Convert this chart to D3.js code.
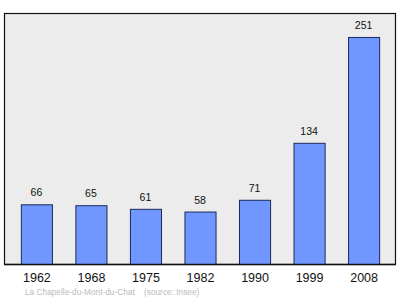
<!DOCTYPE html>
<html>
<head>
<meta charset="utf-8">
<script src="https://cdn.jsdelivr.net/npm/d3@7"></script>
<style>
  body { margin: 0; background: #fff; }
  text { font-family: "Liberation Sans", Arial, sans-serif; }
</style>
</head>
<body>
<div id="chart"></div>
<script>
const years = ["1962", "1968", "1975", "1982", "1990", "1999", "2008"]
const population = [66, 65, 61, 58, 71, 134, 251]
const footer = "La Chapelle-du-Mont-du-Chat    (source: Insee)"

const W = 400, H = 299
const frame = { left: 4.5, top: 13.5, right: 395.5, bottom: 264.5 }

const svg = d3.select("#chart")
    .append("svg")
    .attr("width", W)
    .attr("height", H)

// plot background
svg.append("rect")
    .attr("x", frame.left)
    .attr("y", frame.top)
    .attr("width", frame.right - frame.left)
    .attr("height", frame.bottom - frame.top)
    .attr("fill", "#ececec")
    .attr("stroke", "#111")
    .attr("stroke-width", 1.2)

const x = d3.scaleBand()
    .domain(years)
    .range([frame.left, frame.right])
    .paddingInner(0.43)
    .paddingOuter(0.3)

const y = d3.scaleLinear()
    .domain([0, 277.5])
    .range([frame.bottom, frame.top])

const data = years.map((yr, i) => ({ year: yr, value: population[i] }))

svg.append("g")
    .selectAll("rect")
    .data(data)
    .enter().append("rect")
    .attr("x", d => x(d.year) + 0.5)
    .attr("y", d => y(d.value))
    .attr("width", x.bandwidth())
    .attr("height", d => y(0) - y(d.value))
    .attr("fill", "#7097ff")
    .attr("stroke", "#1a2a5a")
    .attr("stroke-width", 1)

svg.append("g")
    .selectAll("text")
    .data(data)
    .enter().append("text")
    .attr("x", d => x(d.year) + x.bandwidth() / 2)
    .attr("y", d => y(d.value) - 8.5)
    .attr("text-anchor", "middle")
    .attr("font-size", 10.5)
    .attr("fill", "#111")
    .text(d => d.value)

// bottom axis line, a bit heavier
svg.append("line")
    .attr("x1", frame.left)
    .attr("x2", frame.right)
    .attr("y1", frame.bottom)
    .attr("y2", frame.bottom)
    .attr("stroke", "#111")
    .attr("stroke-width", 1.5)

const xAxis = svg.append("g")
    .attr("transform", "translate(0," + frame.bottom + ")")
    .call(d3.axisBottom(x).tickSize(0).tickPadding(8.5))
xAxis.select(".domain").remove()
xAxis.selectAll("text")
    .attr("font-size", 12.5)
    .attr("fill", "#111")
    .style("font-family", "'Liberation Sans', Arial, sans-serif")
    .attr("dx", "0.5")

svg.append("text")
    .attr("x", 25)
    .attr("y", 295)
    .attr("font-size", 8.3)
    .attr("fill", "#bbb")
    .attr("xml:space", "preserve")
    .style("white-space", "pre")
    .text(footer)
</script>
</body>
</html>
